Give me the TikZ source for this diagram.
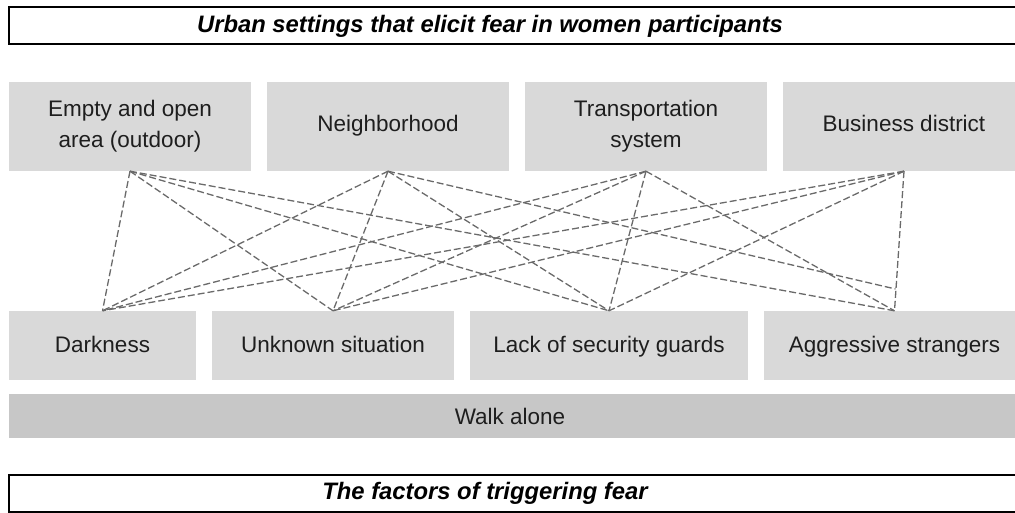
\documentclass[tikz,border=0pt]{standalone}
\usepackage{fontspec}
\setmainfont{Liberation Sans}
\definecolor{boxgray}{HTML}{D9D9D9}
\definecolor{bargray}{HTML}{C7C7C7}
\definecolor{textdark}{HTML}{1E1E1E}
\definecolor{linkgray}{HTML}{6A6A6A}
\begin{document}
\begin{tikzpicture}[x=1pt,y=-1pt,
  cell/.style={fill=boxgray, draw=none, text=textdark, align=center,
    inner sep=0pt, font=\fontsize{22.5}{31}\selectfont},
  topcell/.style={cell, minimum width=242, minimum height=89, text height=16pt, text depth=5pt},
  toptwo/.style={cell, minimum width=242, minimum height=89, text height=47pt, text depth=5pt},
  botcell/.style={cell, minimum height=69, text height=16pt, text depth=1.6pt},
  bar/.style={fill=bargray, draw=none, inner sep=0pt},
  headbox/.style={draw=black, line width=2pt, fill=white, inner sep=0pt},
  headtext/.style={font=\fontsize{23.8}{27}\selectfont\bfseries\itshape, text=black,
    inner sep=0pt, anchor=base},
  plaintext/.style={font=\fontsize{22.5}{26}\selectfont, text=textdark, inner sep=0pt, anchor=base},
  link/.style={draw=linkgray, line width=1.3pt, dash pattern=on 7pt off 3pt}]
  \useasboundingbox (0,0) rectangle (1015,513);
  \clip (0,0) rectangle (1015,513);

  % heading boxes
  \node[headbox, minimum width=1030, minimum height=37] (tophead) at (524,26) {};
  \node[headtext] (toptitle) at (490,33) {Urban settings that elicit fear in women participants};
  \node[headbox, minimum width=1030, minimum height=37] (bothead) at (524,493) {};
  \node[headtext] (bottitle) at (485,499) {The factors of triggering fear};

  % urban settings
  \node[toptwo] (empty) at (130,126.5) {Empty and open\\area (outdoor)};
  \node[topcell] (neigh) at (388,126.5) {Neighborhood};
  \node[toptwo] (trans) at (646,126.5) {Transportation\\system};
  \node[topcell] (busin) at (904,126.5) {Business district};

  % triggering factors
  \node[botcell, minimum width=187] (dark) at (102.5,345.5) {Darkness};
  \node[botcell, minimum width=242] (unkn) at (333,345.5) {Unknown situation};
  \node[botcell, minimum width=278] (lack) at (609,345.5) {Lack of security guards};
  \node[botcell, minimum width=261] (aggr) at (894.5,345.5) {Aggressive strangers};

  % walk alone bar
  \node[bar, minimum width=1016, minimum height=44] (walk) at (517,416) {};
  \node[plaintext] (walklbl) at (510,424) {Walk alone};

  \coordinate (aggrhi) at (895.5,289);

  % links between settings and factors
  \foreach \s in {empty,neigh,trans,busin}{
    \foreach \f in {dark,unkn,lack}{
      \draw[link] (\s.south) -- (\f.north);
    }
  }
  \draw[link] (empty.south) -- (aggr.north);
  \draw[link] (neigh.south) -- (aggrhi);
  \draw[link] (trans.south) -- (aggr.north);
  \draw[link] (busin.south) -- (aggr.north);
\end{tikzpicture}
\end{document}
